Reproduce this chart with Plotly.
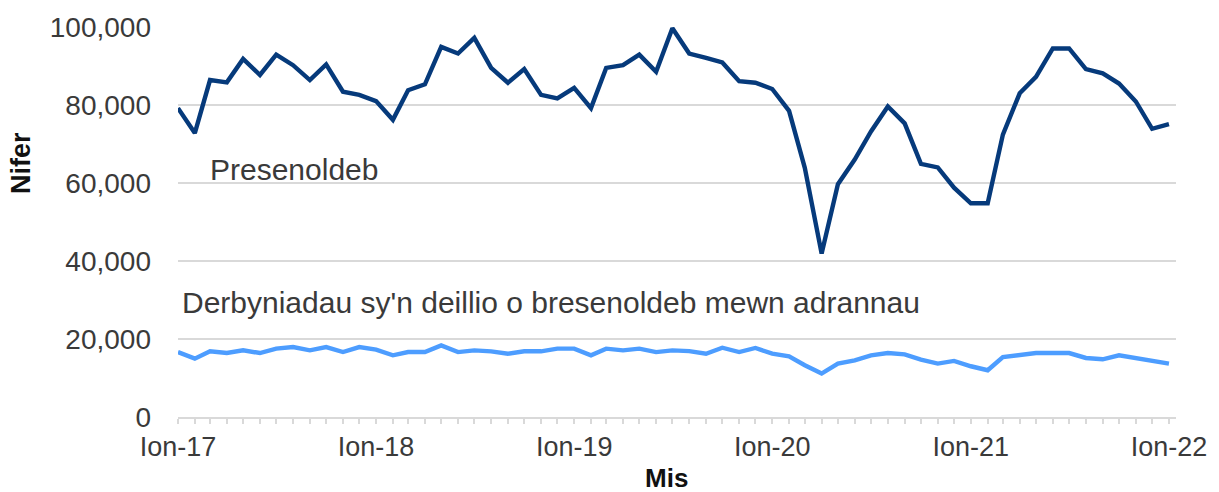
import pandas as pd
import plotly.graph_objects as go

months = pd.date_range("2017-01-01", "2022-01-01", freq="MS")

presenoldeb = [
    79200, 72800, 86400, 85800, 91800, 87700, 92900, 90200, 86400, 90400,
    83400, 82600, 81000, 76200, 83800, 85300, 94900, 93200, 97200, 89500,
    85700, 89200, 82600, 81700, 84400, 79200, 89500, 90200, 92900, 88500,
    99700, 93200, 92100, 90900, 86100, 85700, 84100, 78500, 63900, 41900,
    59700, 66000, 73200, 79600, 75300, 64900, 64000, 58800, 54800, 54800,
    72400, 83000, 87200, 94500, 94500, 89200, 88100, 85500, 80900, 73900,
    75100,
]

derbyniadau = [
    16650, 14970, 16840, 16400, 17090, 16400, 17520, 17940, 17090, 17940,
    16650, 17940, 17270, 15820, 16650, 16650, 18370, 16650, 17090, 16840,
    16230, 16840, 16840, 17520, 17520, 15820, 17520, 17090, 17520, 16650,
    17090, 16900, 16230, 17770, 16650, 17700, 16230, 15560, 13270, 11140,
    13700, 14540, 15820, 16400, 16070, 14720, 13700, 14380, 13010, 11990,
    15390, 15820, 16400, 16400, 16400, 15140, 14800, 15820, 15140, 14380,
    13700,
]

tick_dates = ["2017-01-01", "2018-01-01", "2019-01-01", "2020-01-01", "2021-01-01", "2022-01-01"]
tick_labels = ["Ion-17", "Ion-18", "Ion-19", "Ion-20", "Ion-21", "Ion-22"]
y_ticks = [0, 20000, 40000, 60000, 80000, 100000]
y_labels = ["0", "20,000", "40,000", "60,000", "80,000", "100,000"]

FONT = "Liberation Sans, Arial, sans-serif"
DARK = "#063a7b"
LIGHT = "#4d9dff"
GRID = "#d9d9d9"
TXT = "#3a3a3a"

fig = go.Figure()
fig.add_trace(go.Scatter(x=months, y=presenoldeb, mode="lines",
                         line=dict(color=DARK, width=4.4), showlegend=False))
fig.add_trace(go.Scatter(x=months, y=derbyniadau, mode="lines",
                         line=dict(color=LIGHT, width=4.4), showlegend=False))

fig.update_layout(
    width=1219, height=492,
    margin=dict(l=178, r=39, t=25, b=75),
    paper_bgcolor="white", plot_bgcolor="white",
    font=dict(family=FONT, color=TXT),
    xaxis=dict(
        range=["2017-01-01", "2022-01-14"],
        tickvals=tick_dates, ticktext=tick_labels,
        tickfont=dict(size=27, color=TXT),
        showgrid=False, showline=True, linecolor=GRID, linewidth=2,
        ticks="outside", ticklen=5, tickcolor=GRID, tickwidth=1.5,
        minor=dict(dtick="M1", ticks="outside", ticklen=5, tickcolor=GRID, tickwidth=1.5),
        zeroline=False,
    ),
    yaxis=dict(
        range=[0, 100000],
        tickvals=y_ticks, ticktext=y_labels,
        tickfont=dict(size=28, color=TXT),
        showgrid=True, gridcolor=GRID, gridwidth=2,
        zeroline=False, showline=False,
        ticklabelstandoff=26,
    ),
    annotations=[
        dict(text="Presenoldeb", xref="paper", yref="paper", x=0.030, y=(417 - 168) / 392,
             xanchor="left", yanchor="middle", showarrow=False,
             font=dict(size=30, color=TXT, family=FONT)),
        dict(text="Derbyniadau sy'n deillio o bresenoldeb mewn adrannau", xref="paper", yref="paper",
             x=0.002, y=(417 - 302) / 392, xanchor="left", yanchor="middle", showarrow=False,
             font=dict(size=30, color=TXT, family=FONT)),
        dict(text="<b>Nifer</b>", xref="paper", yref="paper", x=(21 - 178) / 1002, y=(417 - 162) / 392,
             xanchor="center", yanchor="middle", textangle=-90, showarrow=False,
             font=dict(size=27, color="#111111", family=FONT)),
        dict(text="<b>Mis</b>", xref="paper", yref="paper", x=(668 - 178) / 1002, y=(417 - 478) / 392,
             xanchor="center", yanchor="middle", showarrow=False,
             font=dict(size=26, color="#111111", family=FONT)),
    ],
)

fig.write_html("out.html", config={"displayModeBar": False},
               post_script="document.body.style.margin='0';document.body.style.overflow='hidden';")
